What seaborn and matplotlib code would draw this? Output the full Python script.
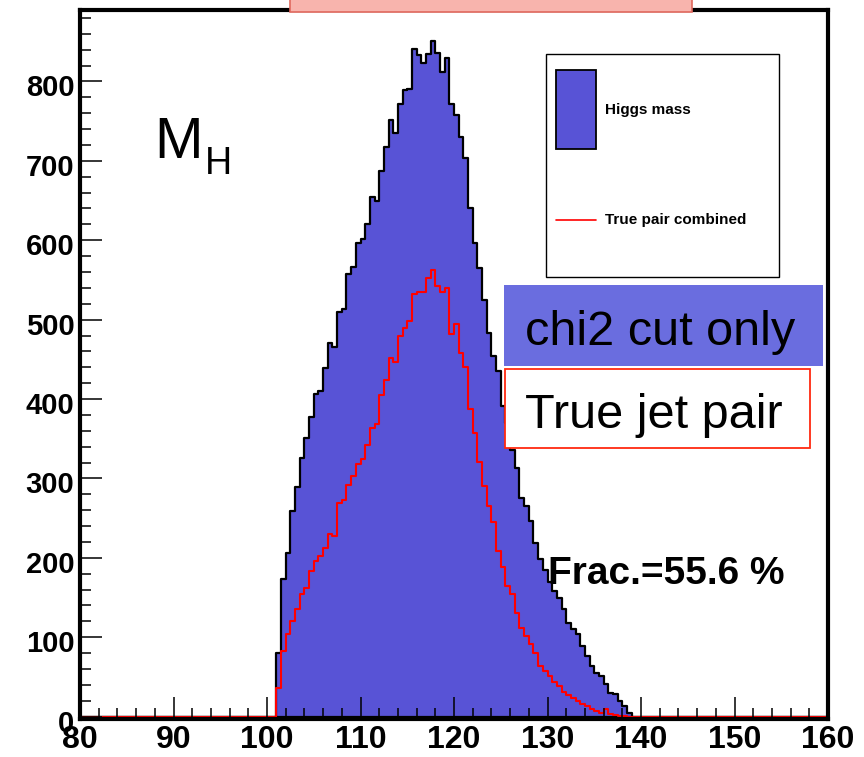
import numpy as np
import pandas as pd
import seaborn as sns
import matplotlib.pyplot as plt
from matplotlib.patches import Rectangle
from matplotlib.lines import Line2D
from matplotlib.ticker import MultipleLocator
from matplotlib.transforms import ScaledTranslation

# histogram binning (GeV)
x_min, x_max = 80, 160
bin_width = 0.5
first_bin = 101.0

# Higgs mass (chi2 cut only), counts per 0.5 GeV bin from 101 GeV
higgs_counts = [80, 173, 206, 259, 289, 326, 351, 378, 406, 410,
                439, 470, 466, 510, 514, 558, 566, 596, 602, 621,
                655, 649, 687, 718, 752, 735, 772, 789, 791, 841,
                833, 823, 835, 851, 836, 812, 830, 772, 758, 730,
                703, 640, 596, 565, 525, 483, 454, 435, 391, 370,
                336, 313, 275, 265, 246, 219, 198, 185, 169, 158,
                150, 135, 118, 110, 104, 89, 76, 64, 55, 51,
                41, 30, 28, 20, 13, 5]

# true jet pair combined
true_pair_counts = [36, 83, 104, 120, 136, 154, 162, 183, 196, 202,
                    213, 230, 228, 269, 273, 292, 303, 318, 325, 342,
                    363, 369, 405, 424, 452, 447, 479, 489, 498, 532,
                    535, 535, 552, 563, 543, 535, 540, 482, 494, 458,
                    440, 388, 357, 321, 290, 265, 245, 208, 189, 164,
                    154, 131, 112, 101, 92, 80, 64, 58, 51, 43,
                    39, 31, 27, 24, 20, 16, 13, 10, 7, 4,
                    9, 3, 2, 1, 1, 0]

x_ticks = [80, 90, 100, 110, 120, 130, 140, 150, 160]
y_ticks = [0, 100, 200, 300, 400, 500, 600, 700, 800]

hist_blue = '#5853d6'
box_blue = '#6a6ddf'

edges = np.arange(x_min, x_max + bin_width / 2, bin_width)
centers = edges[:-1] + bin_width / 2
start = int(round((first_bin - x_min) / bin_width))
full_h = np.zeros(len(centers))
full_t = np.zeros(len(centers))
full_h[start:start + len(higgs_counts)] = higgs_counts
full_t[start:start + len(true_pair_counts)] = true_pair_counts
df = pd.DataFrame({'mass': centers, 'higgs': full_h, 'truepair': full_t})
bin_list = list(edges)

sns.set_style('ticks')
plt.rcParams['font.family'] = ['Liberation Sans', 'DejaVu Sans']
plt.rcParams['text.color'] = 'black'
plt.rcParams['xtick.color'] = 'black'
plt.rcParams['ytick.color'] = 'black'

W, H = 864, 757
fig = plt.figure(figsize=(W / 100, H / 100), dpi=100)
ax = fig.add_axes([80 / W, 1 - 719 / H, (828 - 80) / W, (719 - 10) / H])

sns.histplot(data=df, x='mass', weights='higgs', bins=bin_list, element='step',
             fill=True, color=hist_blue, alpha=1, edgecolor='black',
             linewidth=1.6, ax=ax)
sns.histplot(data=df, x='mass', weights='truepair', bins=bin_list, element='step',
             fill=False, color='red', linewidth=1.5, ax=ax)

ax.set_xlim(x_min, x_max)
ax.set_ylim(-3, 890)
ax.set_xlabel('')
ax.set_ylabel('')
ax.set_axisbelow(False)
ax.set_xticks(x_ticks)
ax.set_yticks(y_ticks)
ax.xaxis.set_minor_locator(MultipleLocator(2))
ax.yaxis.set_minor_locator(MultipleLocator(20))
ax.tick_params(axis='both', which='both', direction='in', width=1.1, colors='black')
ax.tick_params(axis='x', which='major', length=16, pad=4)
ax.tick_params(axis='x', which='minor', length=8)
ax.tick_params(axis='y', which='major', length=16, pad=4)
ax.tick_params(axis='y', which='minor', length=8)
for lab in ax.get_xticklabels():
    lab.set_fontweight('bold')
    lab.set_fontsize(23)
shift_down = ScaledTranslation(0, -4 / 100, fig.dpi_scale_trans)
for lab in ax.get_yticklabels():
    lab.set_fontweight('bold')
    lab.set_fontsize(21)
    lab.set_transform(lab.get_transform() + shift_down)
for sp in ax.spines.values():
    sp.set_visible(True)
    sp.set_linewidth(3)
    sp.set_color('black')


def fig_box(x0, y0, x1, y1, **kw):
    # pixel box (top-left origin) in figure coordinates
    return Rectangle((x0 / W, 1 - y1 / H), (x1 - x0) / W, (y1 - y0) / H,
                     transform=fig.transFigure, **kw)


def fig_xy(x, y):
    return x / W, 1 - y / H


# cut-off title box at the very top
fig.add_artist(fig_box(290, -20, 692, 12, facecolor='#f8b4ad', edgecolor='#e0695e', linewidth=1.2))

# M_H label
fig.text(*fig_xy(154, 158), 'M', fontsize=42, va='baseline', ha='left')
fig.text(*fig_xy(205, 174), 'H', fontsize=27, va='baseline', ha='left')

# legend box
fig.add_artist(fig_box(546, 54, 779, 277, facecolor='white', edgecolor='black', linewidth=1.0))
fig.add_artist(fig_box(556, 70, 596, 149, facecolor=hist_blue, edgecolor='black', linewidth=1.3))
fig.add_artist(Line2D([556 / W, 596 / W], [1 - 220 / H, 1 - 220 / H], transform=fig.transFigure,
                      color='red', linewidth=1.2))
fig.text(*fig_xy(605, 110), 'Higgs mass', fontsize=11, fontweight='bold', va='center', ha='left')
fig.text(*fig_xy(605, 220), 'True pair combined', fontsize=11, fontweight='bold', va='center', ha='left')

# annotation boxes
fig.add_artist(fig_box(504, 285, 823, 366, facecolor=box_blue, edgecolor='none'))
fig.text(*fig_xy(525, 345), 'chi2 cut only', fontsize=35, va='baseline', ha='left')
fig.add_artist(fig_box(505, 369, 810, 448, facecolor='white', edgecolor='#ff2a10', linewidth=1.3))
fig.text(*fig_xy(525, 428), 'True jet pair', fontsize=35, va='baseline', ha='left')

fig.text(*fig_xy(548, 584), 'Frac.=55.6 %', fontsize=28, fontweight='bold', va='baseline', ha='left')

fig.savefig('out.png', dpi=100)
